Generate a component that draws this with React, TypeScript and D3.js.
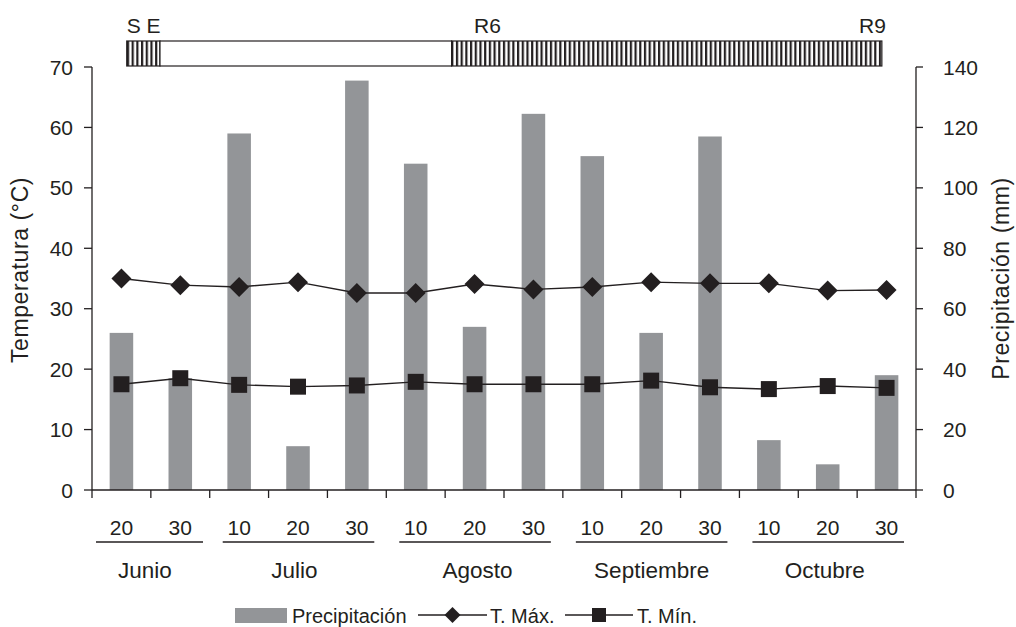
import React from "react";
import * as d3 from "d3";

const periods = ["20", "30", "10", "20", "30", "10", "20", "30", "10", "20", "30", "10", "20", "30"];
const monthNames = ["Junio", "Julio", "Agosto", "Septiembre", "Octubre"];
const monthFirst = [0, 2, 5, 8, 11];
const monthLast = [1, 4, 7, 10, 13];
const precip = [52, 37, 118, 14.5, 135.5, 108, 54, 124.5, 110.5, 52, 117, 16.5, 8.5, 38];
const tmax = [35.0, 33.9, 33.6, 34.4, 32.6, 32.6, 34.1, 33.2, 33.6, 34.4, 34.2, 34.2, 33.0, 33.1];
const tmin = [17.5, 18.5, 17.4, 17.1, 17.3, 17.9, 17.5, 17.5, 17.5, 18.1, 17.0, 16.7, 17.2, 16.9];
const tempTicks = [0, 10, 20, 30, 40, 50, 60, 70];
const precTicks = [0, 20, 40, 60, 80, 100, 120, 140];
// phenology stages in period units (0..14)
const stageStart = [0.59, 1.155, 6.11];
const stageEnd = [1.155, 6.11, 13.42];
const stageHatched = [true, false, true];
const stageLabels = ["S E", "R6", "R9"];
const stageLabelPos = [0.59, 6.49, 13.49];
const stageLabelAnchor = ["start", "start", "end"];

const W = 1016, H = 627;
const L = 92, R = 916, T = 67, B = 490;
const INK = "#231f20";
const FONT = "'Liberation Sans', Arial, Helvetica, sans-serif";

export default function App() {
  const idx = periods.map((_, i) => i);
  const x = d3.scaleBand<number>().domain(idx).range([L, R]).padding(0);
  const bw = x.bandwidth();
  const cx = (i: number) => (x(i) as number) + bw / 2;
  const px = d3.scaleLinear().domain([0, 14]).range([L, R]);
  const yT = d3.scaleLinear().domain([0, 70]).range([B, T]);
  const yP = d3.scaleLinear().domain([0, 140]).range([B, T]);
  const lineMax = d3.line<number>().x((_, i) => cx(i)).y((d) => yT(d))(tmax) as string;
  const lineMin = d3.line<number>().x((_, i) => cx(i)).y((d) => yT(d))(tmin) as string;
  const dia = (r: number) => `M0,${-r}L${r},0L0,${r}L${-r},0Z`;
  const insL = [4, 13, 13, 13, 13];
  const insR = [6.7, 12, 12, 12, 12];
  const mShift = [-6, -3.5, 3, 0.5, -3];

  return (
    <svg width={W} height={H} style={{ position: "absolute", left: 0, top: 0, background: "#fff" }} fontFamily={FONT}>
      <defs>
        <pattern id="hatch" patternUnits="userSpaceOnUse" width={4.7} height={10} x={0}>
          <rect x={0} y={0} width={4.7} height={10} fill="#fff" />
          <rect x={0} y={0} width={2.2} height={10} fill={INK} />
        </pattern>
      </defs>
      {/* phenology bar */}
      {stageStart.map((s, i) => (
        <rect key={"st" + i} x={px(s)} y={41} width={px(stageEnd[i]) - px(s)} height={25}
          fill={stageHatched[i] ? "url(#hatch)" : "#fff"} stroke={INK} strokeWidth={1.2} />
      ))}
      {stageLabels.map((t, i) => (
        <text key={"sl" + i} x={px(stageLabelPos[i])} y={33} fontSize={21} fill={INK}
          textAnchor={stageLabelAnchor[i] as any}>{t}</text>
      ))}
      {/* bars */}
      {precip.map((v, i) => (
        <rect key={"b" + i} x={cx(i) - bw * 0.2} y={yP(v)} width={bw * 0.4} height={B - yP(v)} fill="#939598" />
      ))}
      {/* lines */}
      <path d={lineMax} fill="none" stroke={INK} strokeWidth={1.4} />
      <path d={lineMin} fill="none" stroke={INK} strokeWidth={1.4} />
      {tmax.map((v, i) => (
        <path key={"d" + i} d={dia(10)} transform={`translate(${cx(i)},${yT(v)})`} fill={INK} />
      ))}
      {tmin.map((v, i) => (
        <rect key={"s" + i} x={cx(i) - 8} y={yT(v) - 8} width={16} height={16} fill={INK} />
      ))}
      {/* axes */}
      <line x1={L} x2={L} y1={T} y2={B} stroke={INK} strokeWidth={1.3} />
      <line x1={R} x2={R} y1={T} y2={B} stroke={INK} strokeWidth={1.3} />
      <line x1={L} x2={R} y1={B} y2={B} stroke={INK} strokeWidth={1.3} />
      {tempTicks.map((t) => (
        <g key={"lt" + t}>
          <line x1={L - 8} x2={L} y1={yT(t)} y2={yT(t)} stroke={INK} strokeWidth={1.3} />
          <text x={73} y={yT(t) + 7.5} textAnchor="end" fontSize={21} fill={INK}>{t}</text>
        </g>
      ))}
      {precTicks.map((t) => (
        <g key={"rt" + t}>
          <line x1={R} x2={R + 7} y1={yP(t)} y2={yP(t)} stroke={INK} strokeWidth={1.3} />
          <text x={943} y={yP(t) + 7.5} textAnchor="start" fontSize={21} fill={INK}>{t}</text>
        </g>
      ))}
      {d3.range(15).map((k) => (
        <line key={"xt" + k} x1={px(k)} x2={px(k)} y1={B} y2={B + 8} stroke={INK} strokeWidth={1.3} />
      ))}
      {periods.map((p, i) => (
        <text key={"p" + i} x={cx(i)} y={534.5} textAnchor="middle" fontSize={21} fill={INK}>{p}</text>
      ))}
      {monthNames.map((m, k) => {
        const x1 = (x(monthFirst[k]) as number) + insL[k];
        const x2 = (x(monthLast[k]) as number) + bw - insR[k];
        const mid = (cx(monthFirst[k]) + cx(monthLast[k])) / 2 + mShift[k];
        return (
          <g key={"m" + k}>
            <line x1={x1} x2={x2} y1={542} y2={542} stroke={INK} strokeWidth={1.3} />
            <text x={mid} y={578} textAnchor="middle" fontSize={22.5} fill={INK}>{m}</text>
          </g>
        );
      })}
      {/* axis titles */}
      <text transform={`translate(28,270) rotate(-90)`} textAnchor="middle" fontSize={23} letterSpacing={0.6} fill={INK}>Temperatura (°C)</text>
      <text transform={`translate(1009,${(T + B) / 2}) rotate(-90)`} textAnchor="middle" fontSize={23} letterSpacing={0.6} fill={INK}>Precipitación (mm)</text>
      {/* legend */}
      <rect x={235} y={608} width={52} height={15} fill="#939598" />
      <text x={292} y={623} fontSize={20} fill={INK}>Precipitación</text>
      <line x1={418} x2={487} y1={615} y2={615} stroke={INK} strokeWidth={1.4} />
      <path d={dia(8)} transform="translate(452.5,615)" fill={INK} />
      <text x={490} y={623} fontSize={20} fill={INK}>T. Máx.</text>
      <line x1={565} x2={633} y1={615} y2={615} stroke={INK} strokeWidth={1.4} />
      <rect x={592} y={608} width={14} height={14} fill={INK} />
      <text x={637} y={623} fontSize={20} fill={INK}>T. Mín.</text>
    </svg>
  );
}
